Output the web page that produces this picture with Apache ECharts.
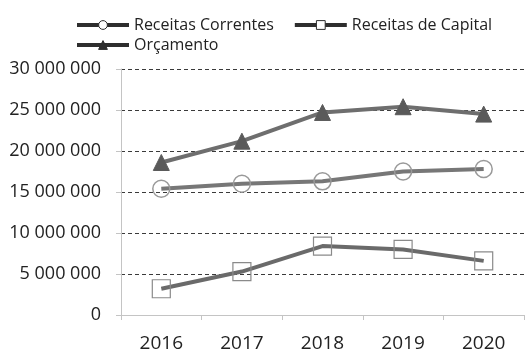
<!DOCTYPE html>
<html>
<head>
<meta charset="utf-8">
<script src="https://cdn.jsdelivr.net/npm/echarts@6/dist/echarts.min.js"></script>
<style>
  html, body { margin: 0; padding: 0; background: #fff; }
  #chart { width: 526px; height: 353px; }
</style>
</head>
<body>
<div id="chart"></div>
<script>
// Years on the category axis
const years = ['2016', '2017', '2018', '2019', '2020'];

// Series values (euros)
const receitasCorrentes = [15400000, 16000000, 16300000, 17500000, 17800000];
const receitasCapital = [3200000, 5300000, 8400000, 8000000, 6600000];
const orcamento = [18600000, 21200000, 24700000, 25400000, 24500000];

// Value axis range and step
const yMin = 0;
const yMax = 30000000;
const yStep = 5000000;

const FONT = '"Open Sans", "Noto Sans", sans-serif';
const TEXT = '#222';
const LEGEND_INK = '#2e2e2e';

function fmt(v) {
  return String(Math.round(v)).replace(/\B(?=(\d{3})+(?!\d))/g, ' ');
}

const chart = echarts.init(document.getElementById('chart'), null, { renderer: 'canvas' });

const legendCommon = {
  orient: 'horizontal',
  itemWidth: 52,
  itemHeight: 11,
  itemGap: 19,
  textStyle: { color: TEXT, fontSize: 16, fontFamily: FONT },
  lineStyle: { color: LEGEND_INK, width: 4 }
};

const hollowIcon = { color: '#fff', borderColor: LEGEND_INK, borderWidth: 1 };
const solidIcon = { color: LEGEND_INK, borderColor: LEGEND_INK, borderWidth: 1 };

chart.setOption({
  animation: false,
  legend: [
    Object.assign({}, legendCommon, {
      left: 70, top: 12,
      data: [
        { name: 'Receitas Correntes', itemStyle: hollowIcon },
        { name: 'Receitas de Capital', itemStyle: hollowIcon }
      ]
    }),
    Object.assign({}, legendCommon, {
      left: 70, top: 32,
      data: [{ name: 'Orçamento', itemStyle: solidIcon }]
    })
  ],
  grid: { left: 121, right: 2, top: 69, bottom: 35, containLabel: false },
  xAxis: {
    type: 'category',
    data: years,
    boundaryGap: true,
    axisLine: { show: true, lineStyle: { color: '#c4c4c4', width: 1 } },
    axisTick: { show: true, length: 5, lineStyle: { color: '#c4c4c4' } },
    axisLabel: { color: TEXT, fontSize: 19, fontFamily: FONT, margin: 19 },
    splitLine: { show: false }
  },
  yAxis: {
    type: 'value',
    min: yMin,
    max: yMax,
    interval: yStep,
    axisLine: { show: true, lineStyle: { color: '#c4c4c4', width: 1 } },
    axisTick: { show: true, length: 5, lineStyle: { color: '#c4c4c4' } },
    axisLabel: { color: TEXT, fontSize: 18, fontFamily: FONT, margin: 20, formatter: fmt },
    splitLine: { show: true, lineStyle: { color: '#3a3a3a', width: 1, type: [4, 3] } }
  },
  series: [
    {
      name: 'Receitas Correntes',
      type: 'line',
      data: receitasCorrentes,
      symbol: 'circle',
      symbolSize: 17,
      lineStyle: { color: '#777', width: 4 },
      itemStyle: { color: 'rgba(255,255,255,0)', borderColor: '#999', borderWidth: 1.5 },
      z: 3
    },
    {
      name: 'Receitas de Capital',
      type: 'line',
      data: receitasCapital,
      symbol: 'rect',
      symbolSize: 18,
      lineStyle: { color: '#6a6a6a', width: 4 },
      itemStyle: { color: 'rgba(255,255,255,0)', borderColor: '#8a8a8a', borderWidth: 1.2 },
      z: 3
    },
    {
      name: 'Orçamento',
      type: 'line',
      data: orcamento,
      symbol: 'triangle',
      symbolSize: 16,
      lineStyle: { color: '#6e6e6e', width: 4 },
      itemStyle: { color: '#5a5a5a', borderColor: '#5a5a5a', borderWidth: 1 },
      z: 3
    }
  ]
});
</script>
</body>
</html>
